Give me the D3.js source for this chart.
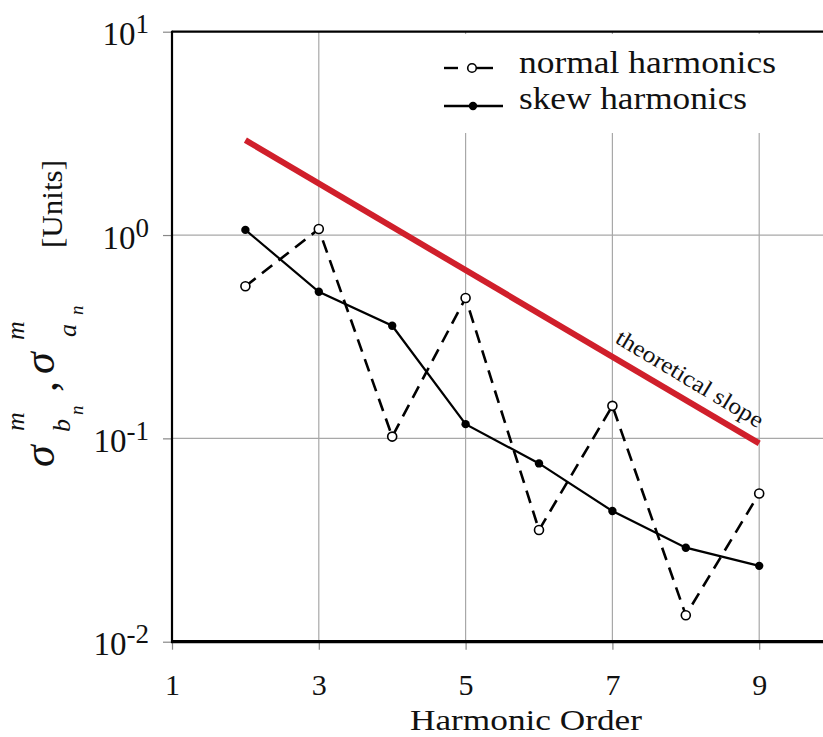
<!DOCTYPE html>
<html>
<head>
<meta charset="utf-8">
<script src="https://cdn.jsdelivr.net/npm/d3@7"></script>
<style>
  html, body { margin: 0; padding: 0; background: #fff; }
  svg { display: block; }
</style>
</head>
<body>
<svg id="chart" width="823" height="737"></svg>
<script>
// ---- data ----
const harmonicOrders = [2, 3, 4, 5, 6, 7, 8, 9];
const normalHarmonics = [0.56, 1.07, 0.102, 0.49, 0.0354, 0.1445, 0.0135, 0.0536];
const skewHarmonics = [1.06, 0.526, 0.358, 0.1175, 0.0753, 0.0439, 0.029, 0.0236];
const slopeOrders = [2, 9];
const slopeValues = [2.93, 0.0944];
const xTickValues = [1, 3, 5, 7, 9];
const yTickValues = [10, 1, 0.1, 0.01];
const yTickExponents = ["1", "0", "-1", "-2"];
const legendLabels = ["normal harmonics", "skew harmonics"];

const SERIF = "'Liberation Serif', 'Times New Roman', Times, serif";
const svg = d3.select("#chart");
const W = 823, H = 737;
const plotLeft = 172, plotTop = 31.7, plotBottom = 641.7;
const unit = 73.4;

const x = d3.scaleLinear().domain([1, 10]).range([plotLeft, plotLeft + 9 * unit]);
const y = d3.scaleLog().domain([0.01, 10]).range([plotBottom, plotTop]);

svg.append("rect").attr("width", W).attr("height", H).attr("fill", "#fff");

// gridlines
const grid = svg.append("g");
grid.selectAll("line.v").data(xTickValues.filter(d => d > 1)).join("line")
  .attr("x1", d => x(d)).attr("x2", d => x(d))
  .attr("y1", plotTop).attr("y2", plotBottom)
  .attr("stroke", "#a8a8a8").attr("stroke-width", 1.2);
grid.selectAll("line.h").data(yTickValues.filter(d => d < 10 && d > 0.01)).join("line")
  .attr("x1", plotLeft).attr("x2", W)
  .attr("y1", d => y(d)).attr("y2", d => y(d))
  .attr("stroke", "#a8a8a8").attr("stroke-width", 1.2);

// legend background (interrupts gridlines)
svg.append("rect").attr("x", 438).attr("y", 34).attr("width", 355).attr("height", 99).attr("fill", "#fff");

// theoretical slope
svg.append("path")
  .datum(slopeOrders.map((d, i) => [d, slopeValues[i]]))
  .attr("d", d3.line().x(d => x(d[0])).y(d => y(d[1])))
  .attr("fill", "none").attr("stroke", "#d01f2b").attr("stroke-width", 6);

// series
const line = d3.line().x(d => x(d[0])).y(d => y(d[1]));
const normalData = harmonicOrders.map((d, i) => [d, normalHarmonics[i]]);
const skewData = harmonicOrders.map((d, i) => [d, skewHarmonics[i]]);

svg.append("path").datum(skewData).attr("d", line)
  .attr("fill", "none").attr("stroke", "#000").attr("stroke-width", 2.2);
svg.append("path").datum(normalData).attr("d", line)
  .attr("fill", "none").attr("stroke", "#000").attr("stroke-width", 2.6)
  .attr("stroke-dasharray", "13,8");

svg.append("g").selectAll("circle").data(skewData).join("circle")
  .attr("cx", d => x(d[0])).attr("cy", d => y(d[1])).attr("r", 4.2)
  .attr("fill", "#000");
svg.append("g").selectAll("circle").data(normalData).join("circle")
  .attr("cx", d => x(d[0])).attr("cy", d => y(d[1])).attr("r", 4.5)
  .attr("fill", "#fff").attr("stroke", "#000").attr("stroke-width", 1.6);

// slope label
svg.append("text")
  .attr("transform", "translate(614,342) rotate(31)")
  .attr("font-family", SERIF).attr("fill", "#111")
  .attr("font-size", 23)
  .attr("textLength", 168).attr("lengthAdjust", "spacingAndGlyphs")
  .text("theoretical slope");

// axes
const xAxis = svg.append("g").attr("transform", `translate(0,${plotBottom})`)
  .call(d3.axisBottom(x).tickValues(xTickValues).tickSize(8).tickFormat(d3.format("d")));
xAxis.select(".domain").remove();
xAxis.selectAll(".tick line").attr("stroke", "#888").attr("stroke-width", 1.2);
xAxis.selectAll(".tick text").attr("font-size", 30).attr("font-family", SERIF).attr("fill", "#111")
  .attr("dy", 0).attr("y", 695 - plotBottom);

const yAxis = svg.append("g").attr("transform", `translate(${plotLeft},0)`)
  .call(d3.axisLeft(y).tickValues(yTickValues).tickSize(9).tickFormat(() => ""));
yAxis.select(".domain").remove();
yAxis.selectAll(".tick line").attr("stroke", "#888").attr("stroke-width", 1.2);
yAxis.selectAll(".tick text").each(function(d) {
  const t = d3.select(this);
  t.text(null).attr("x", -23).attr("dy", 0).attr("y", 13)
    .attr("font-size", 33).attr("font-family", SERIF).attr("fill", "#111")
    .attr("text-anchor", "end");
  t.append("tspan").text("10");
  t.append("tspan").attr("dy", -12).attr("font-size", 27).text(yTickExponents[yTickValues.indexOf(d)]);
});

// frame
svg.append("line").attr("x1", plotLeft).attr("x2", W).attr("y1", plotTop).attr("y2", plotTop)
  .attr("stroke", "#000").attr("stroke-width", 2.2);
svg.append("line").attr("x1", plotLeft).attr("x2", plotLeft).attr("y1", plotTop - 1).attr("y2", plotBottom + 1)
  .attr("stroke", "#000").attr("stroke-width", 2.2);
svg.append("line").attr("x1", plotLeft - 1).attr("x2", W).attr("y1", plotBottom).attr("y2", plotBottom)
  .attr("stroke", "#000").attr("stroke-width", 3.2);

// legend
const lg = svg.append("g");
lg.append("line").attr("x1", 444).attr("x2", 458).attr("y1", 68).attr("y2", 68).attr("stroke", "#000").attr("stroke-width", 2.4);
lg.append("line").attr("x1", 477).attr("x2", 493).attr("y1", 68).attr("y2", 68).attr("stroke", "#000").attr("stroke-width", 2.4);
lg.append("circle").attr("cx", 472).attr("cy", 68).attr("r", 4.3).attr("fill", "#fff").attr("stroke", "#000").attr("stroke-width", 1.6);
lg.append("line").attr("x1", 444).attr("x2", 503).attr("y1", 106).attr("y2", 106).attr("stroke", "#000").attr("stroke-width", 2.4);
lg.append("circle").attr("cx", 473).attr("cy", 106).attr("r", 4.2).attr("fill", "#000");
lg.append("text").attr("x", 519).attr("y", 73).attr("font-size", 31).attr("font-family", SERIF).attr("fill", "#111")
  .attr("textLength", 257).attr("lengthAdjust", "spacingAndGlyphs").text(legendLabels[0]);
lg.append("text").attr("x", 519).attr("y", 109).attr("font-size", 31).attr("font-family", SERIF).attr("fill", "#111")
  .attr("textLength", 228).attr("lengthAdjust", "spacingAndGlyphs").text(legendLabels[1]);

// x label
svg.append("text").attr("x", 526).attr("y", 730).attr("text-anchor", "middle")
  .attr("font-family", SERIF).attr("fill", "#111")
  .attr("font-size", 29).attr("textLength", 232).attr("lengthAdjust", "spacingAndGlyphs")
  .text("Harmonic Order");

// y label (rotated math)
const yl = svg.append("g");
function rtext(sxp, syp, size, str, italic) {
  yl.append("text")
    .attr("transform", `translate(${sxp},${syp}) rotate(-90)`)
    .attr("font-size", size)
    .attr("font-style", italic ? "italic" : "normal")
    .attr("font-family", SERIF).attr("fill", "#111")
    .text(str);
}
rtext(54, 467, 44, "σ", true);
rtext(24, 431, 26, "m", true);
rtext(70, 432, 26, "b", true);
rtext(83, 415, 19, "n", true);
rtext(57, 392, 44, ",", false);
rtext(54, 374, 44, "σ", true);
rtext(24, 340, 26, "m", true);
rtext(76, 337, 26, "a", true);
rtext(83, 315, 19, "n", true);
yl.append("text")
  .attr("transform", "translate(62,248) rotate(-90)")
  .attr("font-family", SERIF).attr("fill", "#111")
  .attr("font-size", 30)
  .attr("textLength", 88).attr("lengthAdjust", "spacingAndGlyphs")
  .text("[Units]");
</script>
</body>
</html>
